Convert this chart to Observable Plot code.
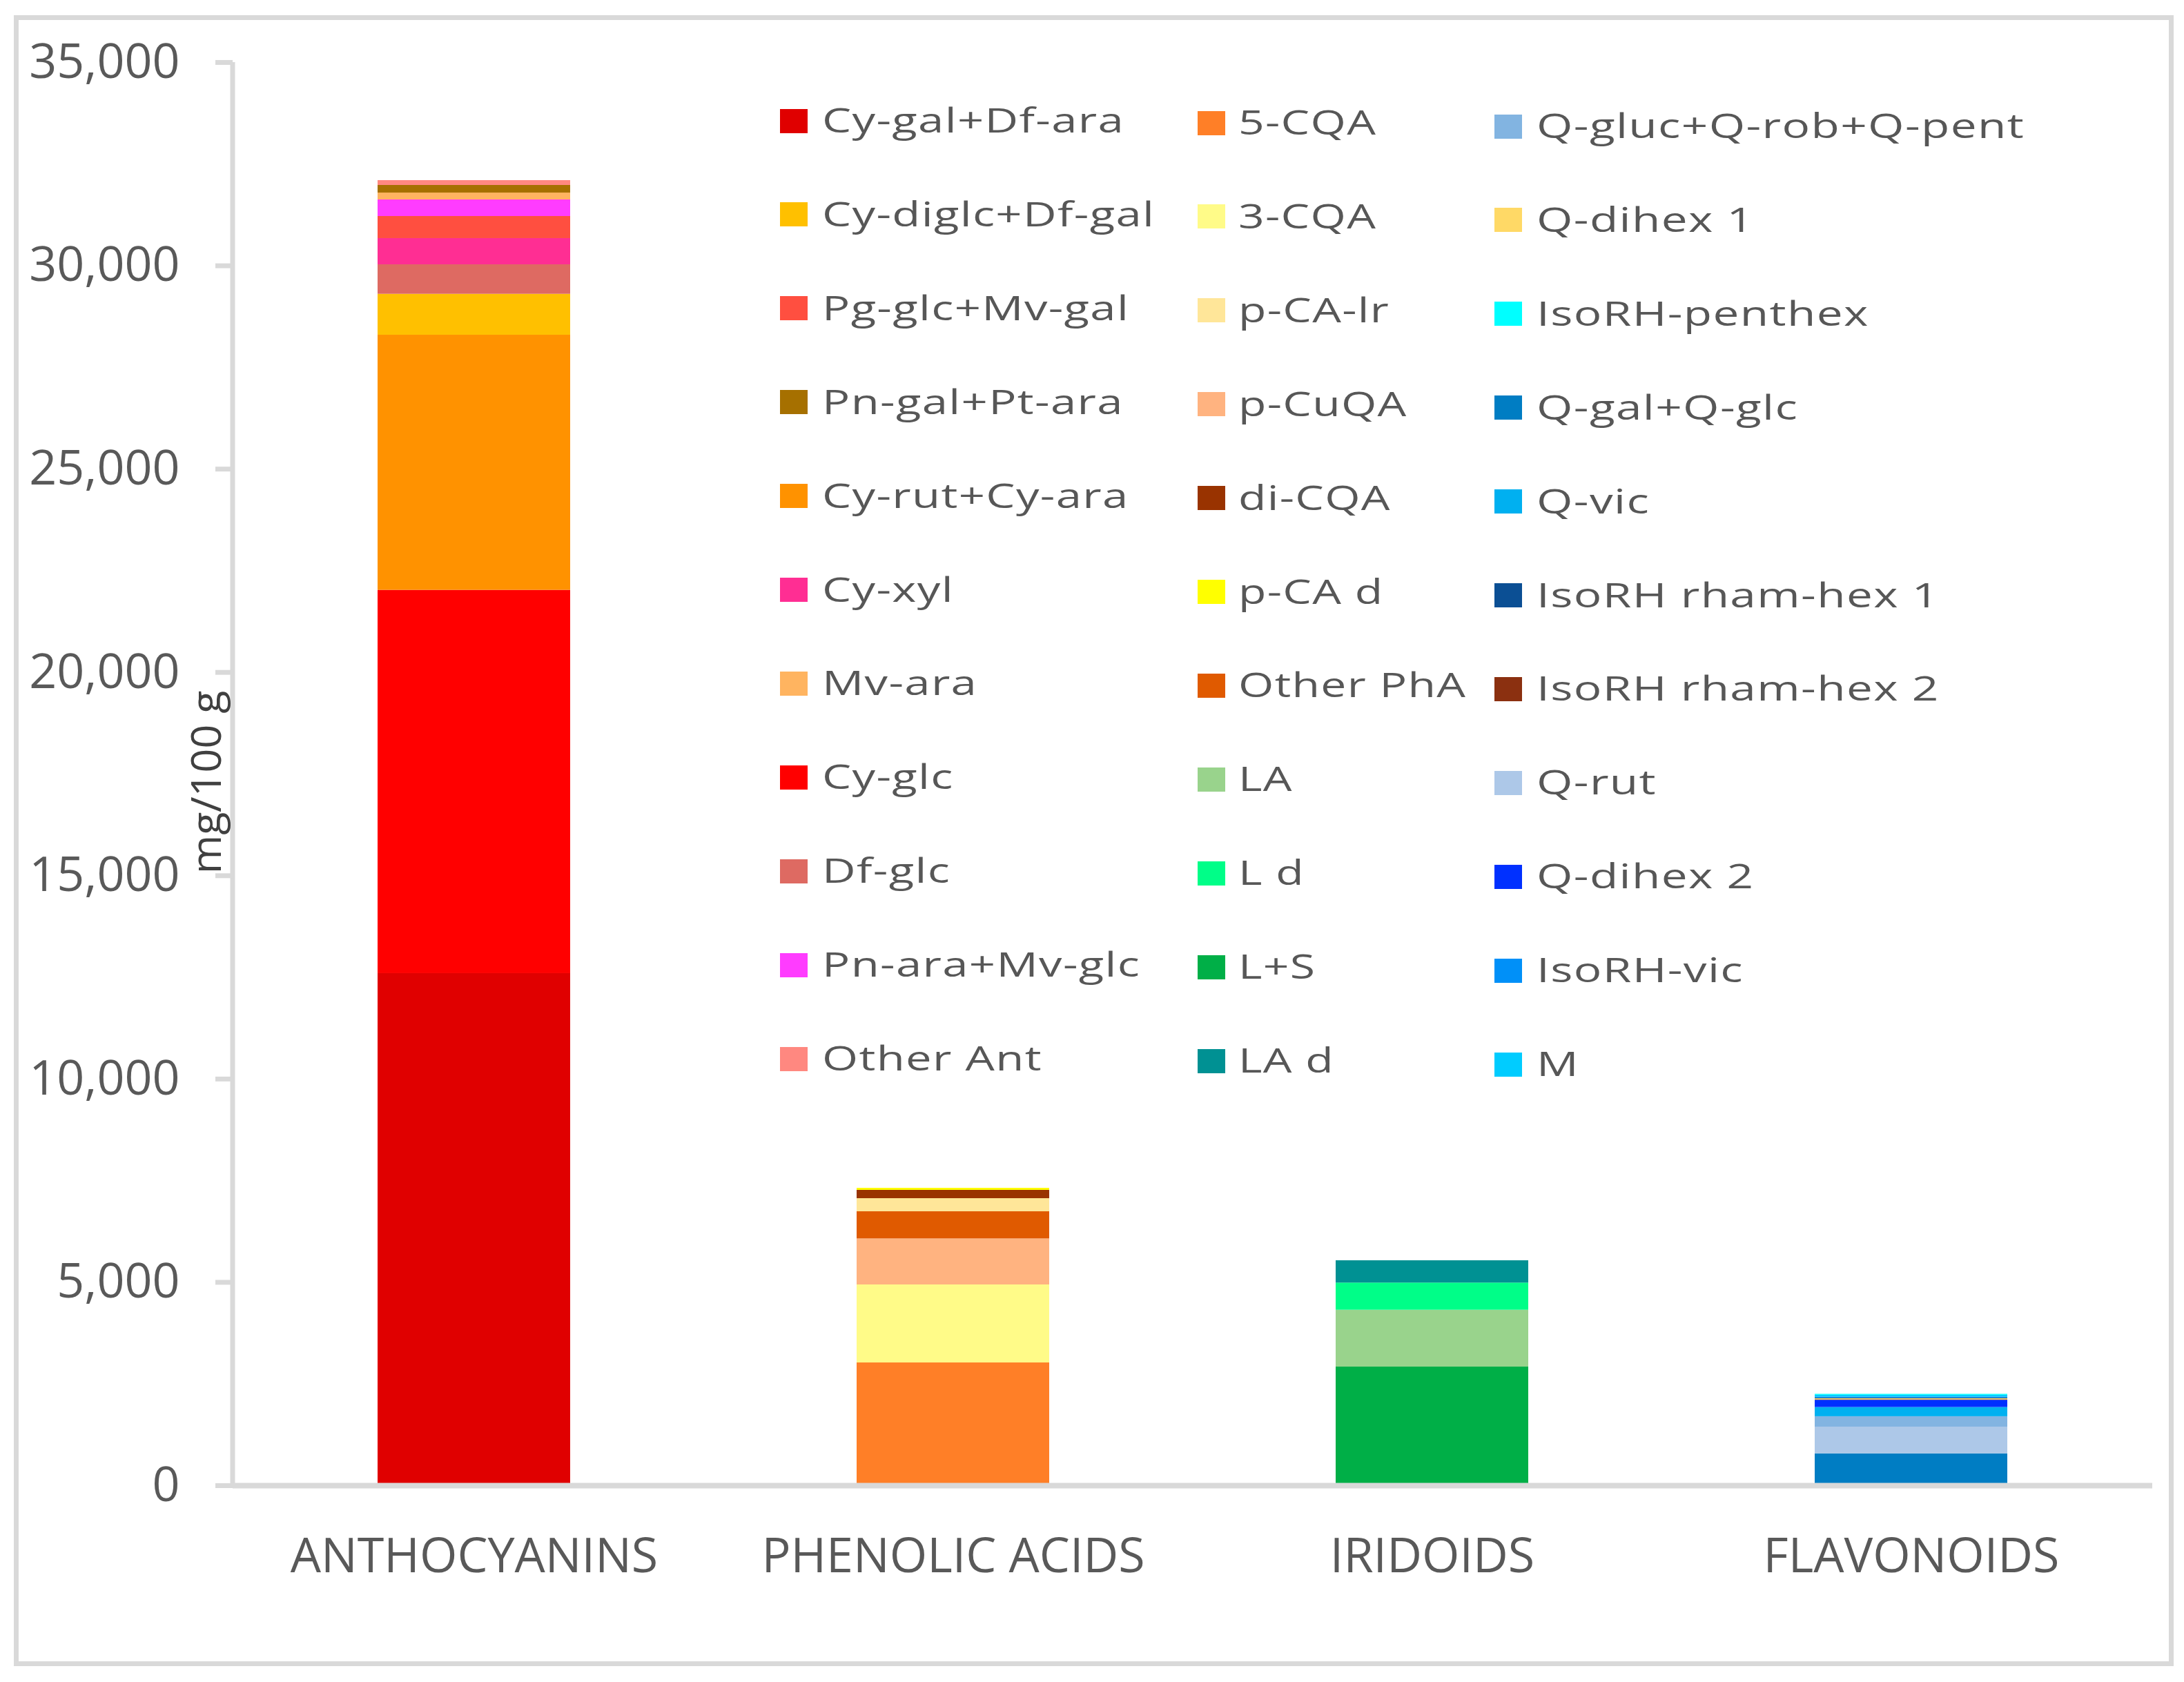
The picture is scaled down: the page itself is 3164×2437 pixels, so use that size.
<!DOCTYPE html>
<html><head><meta charset="utf-8">
<script src="https://cdn.jsdelivr.net/npm/d3@7"></script>
<script src="https://cdn.jsdelivr.net/npm/@observablehq/plot@0.6"></script>
<style>
html,body{margin:0;padding:0;background:#fff;}
#chart{position:relative;width:3164px;height:2437px;background:#fff;overflow:hidden;font-family:"Open Sans",sans-serif;}
#frame{position:absolute;left:20px;top:22px;width:3129px;height:2392px;border:7px solid #d9d9d9;box-sizing:border-box;}
#plot{position:absolute;left:0;top:0;}
.lg-sw{position:absolute;width:40px;height:35px;}
.lg-tx{position:absolute;font-size:50px;color:#575757;white-space:nowrap;line-height:1;font-family:"Open Sans",sans-serif;transform-origin:0 50%;}
</style></head>
<body><div id="chart"><div id="frame"></div><div id="plot"></div><div id="legend"></div></div>
<script>
// Categories (x axis)
const categories = ["ANTHOCYANINS", "PHENOLIC ACIDS", "IRIDOIDS", "FLAVONOIDS"];

// Series in each bar, bottom to top, with values (mg/100 g)
const anthocyaninSeries = ["Cy-gal+Df-ara", "Cy-glc", "Cy-rut+Cy-ara", "Cy-diglc+Df-gal", "Df-glc", "Cy-xyl", "Pg-glc+Mv-gal", "Pn-ara+Mv-glc", "Mv-ara", "Pn-gal+Pt-ara", "Other Ant"];
const anthocyaninValues = [12595, 9427, 6273, 1007, 725, 645, 543, 407, 170, 187, 119];

const phenolicSeries = ["5-CQA", "3-CQA", "p-CuQA", "Other PhA", "p-CA-lr", "di-CQA", "p-CA d"];
const phenolicValues = [3021, 1918, 1132, 668, 322, 204, 51];

const iridoidSeries = ["L+S", "LA", "L d", "LA d"];
const iridoidValues = [2919, 1398, 668, 549];

const flavonoidSeries = ["Q-gal+Q-glc", "Q-rut", "Q-gluc+Q-rob+Q-pent", "Q-vic", "Q-dihex 2", "IsoRH rham-hex 2", "Q-dihex 1", "IsoRH rham-hex 1", "IsoRH-vic", "M", "IsoRH-penthex"];
const flavonoidValues = [786, 657, 256, 226, 177, 12, 27, 16, 25, 44, 23];

// Legend columns (as in the reference)
const legendCol1 = ["Cy-gal+Df-ara", "Cy-diglc+Df-gal", "Pg-glc+Mv-gal", "Pn-gal+Pt-ara", "Cy-rut+Cy-ara", "Cy-xyl", "Mv-ara", "Cy-glc", "Df-glc", "Pn-ara+Mv-glc", "Other Ant"];
const legendCol2 = ["5-CQA", "3-CQA", "p-CA-lr", "p-CuQA", "di-CQA", "p-CA d", "Other PhA", "LA", "L d", "L+S", "LA d"];
const legendCol3 = ["Q-gluc+Q-rob+Q-pent", "Q-dihex 1", "IsoRH-penthex", "Q-gal+Q-glc", "Q-vic", "IsoRH rham-hex 1", "IsoRH rham-hex 2", "Q-rut", "Q-dihex 2", "IsoRH-vic", "M"];

// Colours, in legend order
const colorsCol1 = ["#E00000", "#FFC000", "#FF4F40", "#A67000", "#FF9200", "#FF2E93", "#FFB460", "#FF0000", "#DE6A62", "#FF3CFF", "#FF8880"];
const colorsCol2 = ["#FF7F27", "#FFFB88", "#FFE699", "#FFB380", "#993300", "#FFFF00", "#E05A00", "#99D38C", "#00FE88", "#00AF47", "#009193"];
const colorsCol3 = ["#82B4E1", "#FFD966", "#00FFFF", "#007DC3", "#00B0F0", "#0B4F94", "#8B3010", "#ADC8E8", "#0030FF", "#0090F8", "#00CCFF"];

const yTicks = [0, 5000, 10000, 15000, 20000, 25000, 30000, 35000];
const yLabel = "mg/100 g";

// Build table
const groups = [
  [categories[0], anthocyaninSeries, anthocyaninValues],
  [categories[1], phenolicSeries, phenolicValues],
  [categories[2], iridoidSeries, iridoidValues],
  [categories[3], flavonoidSeries, flavonoidValues]
];
const data = groups.flatMap(([cat, ser, val]) => ser.map((s, i) => ({category: cat, series: s, value: val[i]})));

const legendNames = [...legendCol1, ...legendCol2, ...legendCol3];
const legendColors = [...colorsCol1, ...colorsCol2, ...colorsCol3];

const yAxisLine = (index, scales, values, dims) => {
  const x = dims.marginLeft;
  return d3.create("svg:line")
    .attr("x1", x).attr("x2", x)
    .attr("y1", scales.y(yTicks[yTicks.length - 1]))
    .attr("y2", scales.y(0) + 4)
    .attr("stroke", "#d9d9d9").attr("stroke-width", 7).node();
};

const plot = Plot.plot({
  width: 3164,
  height: 2437,
  marginTop: 90,
  marginBottom: 285,
  marginLeft: 337,
  marginRight: 46,
  style: {fontFamily: "'Open Sans', sans-serif", background: "transparent", overflow: "visible"},
  x: {domain: categories, paddingInner: 0.598, paddingOuter: 0.301, label: null, axis: null},
  y: {domain: [0, 35000], label: null, axis: null},
  color: {type: "ordinal", domain: legendNames, range: legendColors},
  marks: [
    Plot.barY(data, {x: "category", y: "value", fill: "series"}),
    Plot.ruleY([0], {stroke: "#d9d9d9", strokeWidth: 8}),
    yAxisLine,
    Plot.axisY({ticks: yTicks, tickFormat: d3.format(","), tickSize: 25, tickPadding: 52,
      stroke: "#d9d9d9", strokeWidth: 7, fill: "#595959", fontSize: 70, label: null}),
    Plot.axisX({tickSize: 0, tickPadding: 76, fill: "#595959", fontSize: 70, label: null}),
    Plot.text([yLabel], {frameAnchor: "left", rotate: -90, dx: -37, dy: 12, textAnchor: "middle",
      fontSize: 61, fill: "#404040"})
  ]
});
document.getElementById("plot").appendChild(plot);

// Legend (HTML), colours from the plot's color scale
const colorScale = plot.scale("color");
const cmap = new Map(colorScale.domain.map((d, i) => [d, colorScale.range[i]]));
const legend = document.getElementById("legend");
const cols = [
  {names: legendCol1, swX: 1130, txX: 1191, dy: 0, sx: 1.34},
  {names: legendCol2, swX: 1735, txX: 1794, dy: 3, sx: 1.32},
  {names: legendCol3, swX: 2165, txX: 2226, dy: 8, sx: 1.35}
];
const rowTop = 175, rowStep = 135.9;
cols.forEach(col => {
  col.names.forEach((name, i) => {
    const cy = rowTop + col.dy + i * rowStep;
    const sw = document.createElement("div");
    sw.className = "lg-sw";
    sw.style.left = col.swX + "px";
    sw.style.top = (cy - 17.5) + "px";
    sw.style.background = cmap.get(name);
    legend.appendChild(sw);
    const tx = document.createElement("div");
    tx.className = "lg-tx";
    tx.style.left = col.txX + "px";
    tx.style.top = (cy - 27) + "px";
    tx.style.letterSpacing = "1px";
    tx.style.transform = "scaleX(" + col.sx + ")";
    tx.textContent = name;
    legend.appendChild(tx);
  });
});
</script>
</body></html>
